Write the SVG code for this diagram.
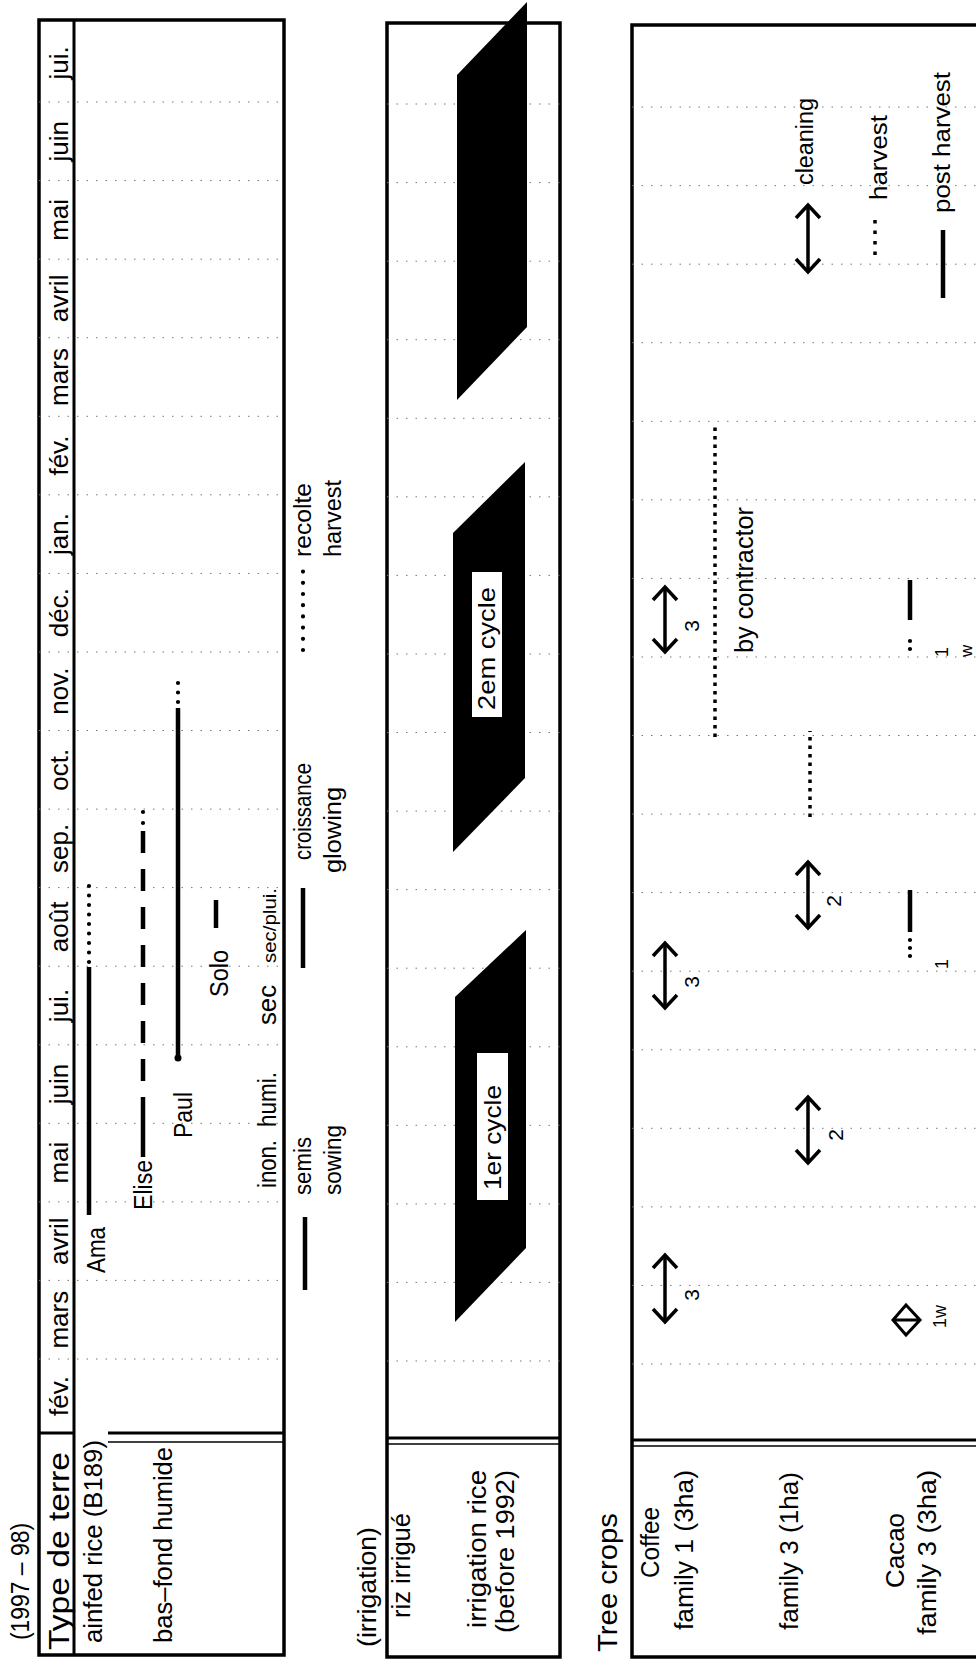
<svg xmlns="http://www.w3.org/2000/svg" width="976" height="1659" viewBox="0 0 976 1659">
<style>
.t{font-family:"Liberation Sans",Arial,Helvetica,sans-serif;font-size:26px;fill:#000}
.fr{fill:none;stroke:#000;stroke-width:3.5}
.ln{fill:none;stroke:#000;stroke-width:3}
.thin{fill:none;stroke:#000;stroke-width:1.5}
.grid{fill:none;stroke:#777;stroke-width:1;stroke-dasharray:1.5 8}
.bar{fill:none;stroke:#000;stroke-width:4.5}
.rd{fill:none;stroke:#000;stroke-width:4.2;stroke-linecap:round;stroke-dasharray:0 9.5}
.sq{fill:none;stroke:#000;stroke-width:3.5;stroke-dasharray:3.5 5}
.arr{fill:none;stroke:#000;stroke-width:3.5;marker-start:url(#chev);marker-end:url(#chev)}
.blk{fill:#000}
.wb{fill:#fff}
</style>
<defs>
<marker id="chev" markerUnits="userSpaceOnUse" markerWidth="20" markerHeight="30" refX="15" refY="14" orient="auto-start-reverse" overflow="visible"><path d="M2,2 L15,14 L2,26" fill="none" stroke="#000" stroke-width="3.5"/></marker>
</defs>
<rect width="976" height="1659" fill="#fff"/>
<g transform="matrix(0,-1,1,0,0,1659)">
<g id="titles">
<text class="t" x="19" y="29" textLength="117" lengthAdjust="spacingAndGlyphs" style="font-size:25px">(1997 – 98)</text>
<text class="t" x="12" y="376" textLength="120" lengthAdjust="spacingAndGlyphs" style="font-size:26px">(irrigation)</text>
<text class="t" x="7" y="617" textLength="139" lengthAdjust="spacingAndGlyphs" style="font-size:27px">Tree crops</text>
</g>
<g id="rainfed">
<rect class="fr" x="4" y="39" width="1635" height="245"/>
<path class="ln" d="M4,74H1639M226,39V74M226,108V284"/>
<path class="thin" d="M217,108V284"/>
<path class="grid" d="M300,39V284M378.6,39V284M457.1,39V284M535.7,39V284M614.2,39V284M692.8,39V284M771.4,39V284M849.9,39V284M928.5,39V284M1007,39V284M1085.6,39V284M1164.2,39V284M1242.7,39V284M1321.3,39V284M1399.8,39V284M1478.4,39V284M1557,39V284"/>
<text class="t" x="9" y="69" textLength="198" lengthAdjust="spacingAndGlyphs" style="font-size:30px">Type de terre</text>
<text class="t" x="16" y="102" textLength="203" lengthAdjust="spacingAndGlyphs">ainfed rice (B189)</text>
<text class="t" x="16" y="172" textLength="196" lengthAdjust="spacingAndGlyphs">bas–fond humide</text>
<g class="t" text-anchor="middle">
<text x="263" y="68">fév.</text>
<text x="339.3" y="68">mars</text>
<text x="417.8" y="68">avril</text>
<text x="496.4" y="68">mai</text>
<text x="574.9" y="68">juin</text>
<text x="653.5" y="68">jui.</text>
<text x="732.1" y="68">août</text>
<text x="810.6" y="68">sep.</text>
<text x="889.2" y="68">oct.</text>
<text x="967.8" y="68">nov.</text>
<text x="1046.3" y="68">déc.</text>
<text x="1124.9" y="68">jan.</text>
<text x="1203.4" y="68">fév.</text>
<text x="1282" y="68">mars</text>
<text x="1360.6" y="68">avril</text>
<text x="1439.1" y="68">mai</text>
<text x="1517.7" y="68">juin</text>
<text x="1596.2" y="68">jui.</text>
</g>
<text class="t" x="386" y="105" textLength="46" lengthAdjust="spacingAndGlyphs">Ama</text>
<text class="t" x="449" y="152" textLength="50" lengthAdjust="spacingAndGlyphs">Elise</text>
<text class="t" x="521" y="192" textLength="46" lengthAdjust="spacingAndGlyphs">Paul</text>
<text class="t" x="662" y="228" textLength="47" lengthAdjust="spacingAndGlyphs">Solo</text>
<text class="t" x="471" y="276" textLength="48" lengthAdjust="spacingAndGlyphs" style="font-size:25px">inon.</text>
<text class="t" x="532" y="276" textLength="55" lengthAdjust="spacingAndGlyphs" style="font-size:25px">humi.</text>
<text class="t" x="634" y="276" textLength="40" lengthAdjust="spacingAndGlyphs" style="font-size:25px">sec</text>
<text class="t" x="696" y="276" textLength="75" lengthAdjust="spacingAndGlyphs" style="font-size:19px">sec/plui.</text>
</g>
<g id="legend-rice">
<text class="t" x="464" y="311" textLength="58" lengthAdjust="spacingAndGlyphs" style="font-size:23px">semis</text>
<text class="t" x="464" y="341" textLength="70" lengthAdjust="spacingAndGlyphs" style="font-size:23px">sowing</text>
<text class="t" x="799" y="311" textLength="97" lengthAdjust="spacingAndGlyphs" style="font-size:23px">croissance</text>
<text class="t" x="786" y="341" textLength="86" lengthAdjust="spacingAndGlyphs" style="font-size:23px">glowing</text>
<text class="t" x="1102" y="311" textLength="74" lengthAdjust="spacingAndGlyphs" style="font-size:23px">recolte</text>
<text class="t" x="1102" y="341" textLength="77" lengthAdjust="spacingAndGlyphs" style="font-size:23px">harvest</text>
</g>
<g id="irrigation">
<rect class="fr" x="2" y="387" width="1634" height="173"/>
<path class="ln" d="M221,387V560"/>
<path class="thin" d="M215,387V560"/>
<path class="grid" d="M298,387V560M376.6,387V560M455.1,387V560M533.7,387V560M612.2,387V560M690.8,387V560M769.4,387V560M847.9,387V560M926.5,387V560M1005,387V560M1083.6,387V560M1162.2,387V560M1240.7,387V560M1319.3,387V560M1397.8,387V560M1476.4,387V560M1555,387V560"/>
<text class="t" x="41" y="410" textLength="105" lengthAdjust="spacingAndGlyphs">riz irrigué</text>
<text class="t" x="31" y="486" textLength="158" lengthAdjust="spacingAndGlyphs">irrigation rice</text>
<text class="t" x="26" y="514" textLength="163" lengthAdjust="spacingAndGlyphs">(before 1992)</text>
<polygon class="blk" points="337,455 662,455 729,526 411,526"/>
<polygon class="blk" points="807,453 1126,453 1197,525 881,525"/>
<polygon class="blk" points="1259,457 1584,457 1657,527 1332,527"/>
<rect class="wb" x="459" y="477" width="147" height="31"/>
<text class="t" x="469" y="501" textLength="105" lengthAdjust="spacingAndGlyphs" style="font-size:24px">1er cycle</text>
<rect class="wb" x="942" y="472" width="145" height="30"/>
<text class="t" x="949" y="495" textLength="123" lengthAdjust="spacingAndGlyphs" style="font-size:24px">2em cycle</text>
</g>
<g id="tree-crops">
<rect class="fr" x="2" y="632" width="1632" height="360"/>
<path class="ln" d="M219,632V976"/>
<path class="thin" d="M213,632V976"/>
<path class="grid" d="M295,632V976M373.6,632V976M452.1,632V976M530.7,632V976M609.2,632V976M687.8,632V976M766.4,632V976M844.9,632V976M923.5,632V976M1002,632V976M1080.6,632V976M1159.2,632V976M1237.7,632V976M1316.3,632V976M1394.8,632V976M1473.4,632V976M1552,632V976"/>
<text class="t" x="81" y="659" textLength="71" lengthAdjust="spacingAndGlyphs">Coffee</text>
<text class="t" x="29" y="693" textLength="160" lengthAdjust="spacingAndGlyphs">family 1 (3ha)</text>
<text class="t" x="29" y="798" textLength="158" lengthAdjust="spacingAndGlyphs">family 3 (1ha)</text>
<text class="t" x="71" y="904" textLength="75" lengthAdjust="spacingAndGlyphs">Cacao</text>
<text class="t" x="24" y="936" textLength="165" lengthAdjust="spacingAndGlyphs">family 3  (3ha)</text>
<g class="t" text-anchor="middle" style="font-size:21px">
<text x="364" y="699">3</text>
<text x="677" y="699">3</text>
<text x="1033" y="699">3</text>
<text x="524" y="843">2</text>
<text x="758" y="841">2</text>
</g>
<text class="t" x="1006" y="753" textLength="146" lengthAdjust="spacingAndGlyphs" style="font-size:25px">by contractor</text>
<text class="t" x="331" y="946" style="font-size:18px">1w</text>
<text class="t" x="690" y="948" style="font-size:18px">1</text>
<text class="t" x="1002" y="948" style="font-size:18px">1</text>
<text class="t" x="1002" y="972" style="font-size:17px">w</text>
</g>
<g id="legend-tree">
<text class="t" x="1474" y="813" textLength="87" lengthAdjust="spacingAndGlyphs" style="font-size:23px">cleaning</text>
<text class="t" x="1459" y="887" textLength="85" lengthAdjust="spacingAndGlyphs" style="font-size:23px">harvest</text>
<text class="t" x="1446" y="950" textLength="141" lengthAdjust="spacingAndGlyphs" style="font-size:23px">post harvest</text>
</g>
<g id="connectors">
<path class="bar" d="M444,89H692"/>
<path class="rd" d="M697,89H778"/>
<path class="bar" d="M502,143H562"/>
<path class="bar" d="M578,143H828" style="stroke-dasharray:22 16"/>
<path class="rd" d="M836,143H858" style="stroke-dasharray:0 11"/>
<circle cx="601" cy="178" r="3.5"/>
<path class="bar" d="M601,178H951"/>
<path class="rd" d="M957,178H977"/>
<path class="bar" d="M731,216H759"/>
<path class="bar" d="M369,305H442"/>
<path class="bar" d="M691,303H771"/>
<path class="rd" d="M1009,303H1088" style="stroke-dasharray:0 11.2"/>
<path class="arr" d="M337,665H404"/>
<path class="arr" d="M651,665H716"/>
<path class="arr" d="M1007,665H1072"/>
<path class="arr" d="M496,808H562"/>
<path class="arr" d="M731,808H797"/>
<path class="arr" d="M1387,808H1454"/>
<path class="sq" d="M922,715H1232"/>
<path class="sq" d="M842,810H928"/>
<path d="M324,906L339,893L354,906L339,920Z M339,893V920" fill="none" stroke="#000" stroke-width="3"/>
<path class="rd" d="M703,910H721" style="stroke-dasharray:0 8"/>
<path class="bar" d="M727,910H769"/>
<path class="rd" d="M1010,910H1026" style="stroke-dasharray:0 8"/>
<path class="bar" d="M1039,910H1079"/>
<path class="sq" d="M1404,875H1440" style="stroke-dasharray:3.5 7"/>
<path class="bar" d="M1361,943H1429"/>
</g>
</g>
</svg>
